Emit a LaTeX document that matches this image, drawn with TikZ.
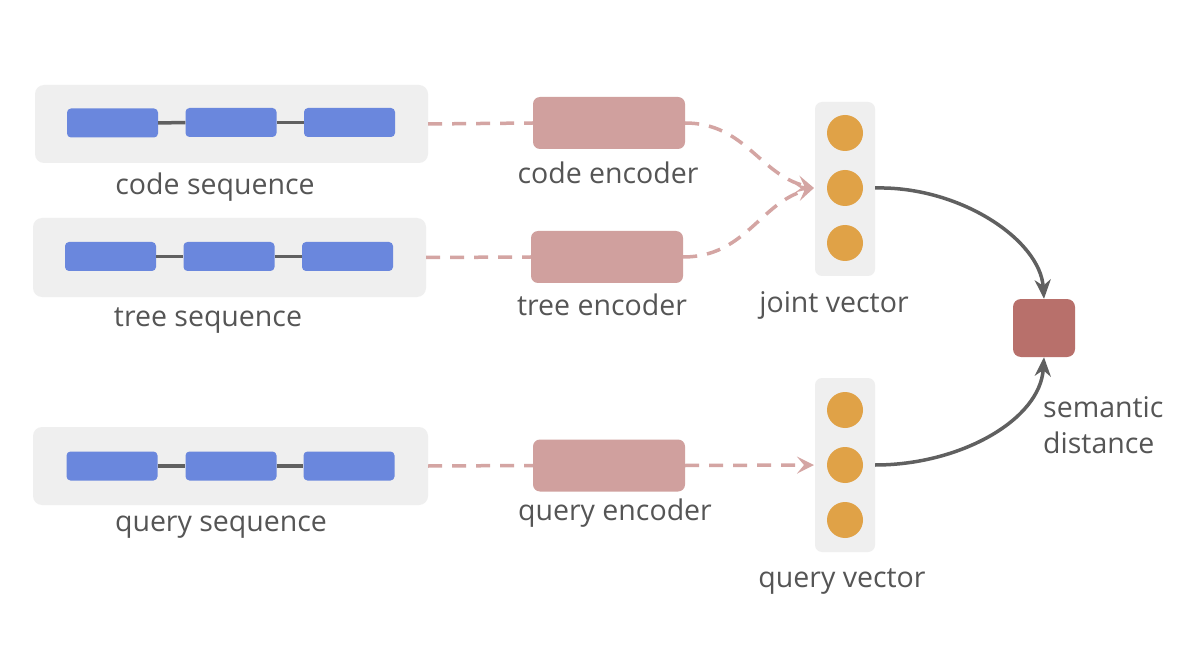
\documentclass[tikz,border=0pt]{standalone}
\usepackage{fontspec}
\setmainfont{Open Sans}
\usetikzlibrary{arrows.meta,positioning}
\definecolor{panel}{HTML}{EFEFEF}
\definecolor{blk}{HTML}{6A87DD}
\definecolor{enc}{HTML}{D0A09E}
\definecolor{dot}{HTML}{E0A247}
\definecolor{dash}{HTML}{D4A5A3}
\definecolor{darr}{HTML}{606060}
\definecolor{txt}{HTML}{555555}
\definecolor{sem}{HTML}{B8706B}
\tikzset{
  panelbox/.style={fill=panel,draw=none,rounded corners=9pt},
  blkbox/.style={fill=blk,draw=none,rounded corners=4pt,minimum width=91pt,minimum height=29pt,inner sep=0pt},
  encbox/.style={fill=enc,draw=none,rounded corners=7pt,minimum width=152pt,minimum height=52pt,inner sep=0pt},
  dotc/.style={circle,fill=dot,draw=none,minimum size=36pt,inner sep=0pt},
  semb/.style={fill=sem,draw=none,rounded corners=8pt,minimum width=62pt,minimum height=58pt,inner sep=0pt},
  lbl/.style={text=txt,font=\fontsize{28.5}{36}\selectfont,inner sep=0pt},
  link/.style={draw=darr,line width=3.5pt},
  dsh/.style={draw=dash,line width=3.5pt,dash pattern=on 14pt off 10pt},
  dtip/.style={-{Stealth[length=17pt,width=17pt,inset=7pt]}},
  gtip/.style={-{Stealth[length=19pt,width=16pt,inset=6pt]}},
}
\begin{document}
\begin{tikzpicture}[x=1pt,y=-1pt]
\useasboundingbox[fill=white] (0,0) rectangle (1200,671);
% sequence panels
\node[panelbox,minimum width=393pt,minimum height=78pt] (cs) at (231.5,124) {};
\node[panelbox,minimum width=393pt,minimum height=79pt] (ts) at (229.5,257.5) {};
\node[panelbox,minimum width=395pt,minimum height=78pt] (qs) at (230.5,466) {};
% blocks
\foreach \n/\x/\y in {c1/112.5/123, c2/231/122.5, c3/349.5/122.5,
                      t1/110.5/256.5, t2/229/256.5, t3/347.5/256.5,
                      q1/112/466, q2/231/466, q3/349/466}{
  \node[blkbox] (\n) at (\x,\y) {};
}
\draw[link] (c1) -- (c2); \draw[link] (c2) -- (c3);
\draw[link] (t1) -- (t2); \draw[link] (t2) -- (t3);
\draw[link] (q1) -- (q2); \draw[link] (q2) -- (q3);
\node[lbl] (csl) at (215,187) {code sequence};
\node[lbl] (tsl) at (208,321) {tree sequence};
\node[lbl] (qsl) at (221,527) {query sequence};
% encoders
\node[encbox] (ce) at (609,123) {};
\node[encbox] (te) at (607,257) {};
\node[encbox] (qe) at (609,465.5) {};
\node[lbl] (cel) at (608,173) {code encoder};
\node[lbl] (tel) at (602,305) {tree encoder};
\node[lbl] (qel) at (615,513) {query encoder};
% vectors
\node[panelbox,rounded corners=7pt,minimum width=60pt,minimum height=174pt] (jv) at (845,189) {};
\node[panelbox,rounded corners=7pt,minimum width=60pt,minimum height=174pt] (qv) at (845,465) {};
\node[dotc] (j1) at (845,133) {};
\node[dotc] (j2) at (845,188) {};
\node[dotc] (j3) at (845,243) {};
\node[dotc] (v1) at (845,410) {};
\node[dotc] (v2) at (845,465) {};
\node[dotc] (v3) at (845,520) {};
\node[lbl] (jvl) at (834,305) {joint vector};
\node[lbl] (qvl) at (842,582) {query vector};
% semantic distance
\node[semb] (sd) at (1044,328) {};
\node[lbl,align=left,anchor=north west] (sdl) at (1043,396) {semantic\\distance};
% dashed connectors
\coordinate (jin) at (814,188);
\coordinate (qin) at (814,465);
\draw[dsh] (cs.east) -- (ce.west);
\draw[dsh] (ts.east) -- (te.west);
\draw[dsh] (qs.east) -- (qe.west);
\draw[dsh,dtip] (ce.east) .. controls (745,123) and (760,175) .. (jin);
\draw[dsh,dtip] (te.east) .. controls (745,257) and (760,203) .. (jin);
\draw[dsh,dtip] (qe.east) -- (qin);
% solid arrows
\draw[link,gtip] (jv.east |- j2) .. controls (960,186) and (1040,240) .. (sd.north);
\draw[link,gtip] (qv.east |- v2) .. controls (960,465) and (1040,420) .. (sd.south);
\end{tikzpicture}
\end{document}
